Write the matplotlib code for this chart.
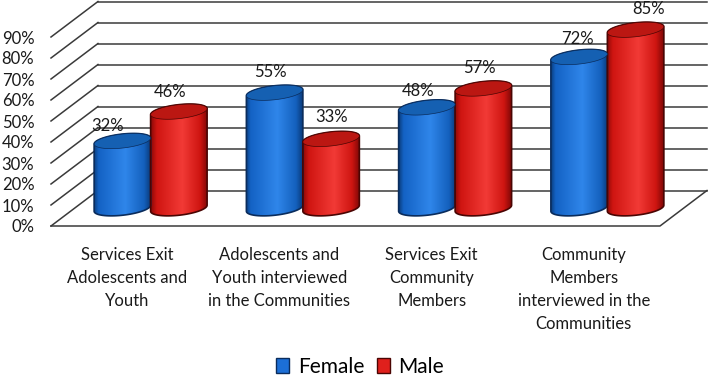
# Columnas 3D tipo cilindro, imitadas con degradados recortados
import numpy as np
import matplotlib
matplotlib.use('Agg')
import matplotlib.pyplot as plt
from matplotlib.colors import LinearSegmentedColormap
from matplotlib.patches import Patch, Polygon

categories = ['Services Exit\nAdolescents and\nYouth',
              'Adolescents and\nYouth interviewed\nin the Communities',
              'Services Exit\nCommunity\nMembers',
              'Community\nMembers\ninterviewed in the\nCommunities']
female = [32, 55, 48, 72]
male = [46, 33, 57, 85]
y_ticks = [0, 10, 20, 30, 40, 50, 60, 70, 80, 90]
y_labels = ['0%', '10%', '20%', '30%', '40%', '50%', '60%', '70%', '80%', '90%']
series_names = ['Female', 'Male']

# desplazamiento de las etiquetas respecto a la tapa (pt)
female_off = [(-11, 11), (-3, 15), (-6, 12), (-1, 13)]
male_off = [(-6, 14), (0, 16), (-3, 15), (9, 15)]

FONT = 'Lato'
plt.rcParams['font.family'] = FONT

W, H = 708, 376
PX_X, PX_Y = 152.3, 2.1      # pixeles por categoria y por 1 %
DX, DY = 47 / PX_X, 35.5 / PX_Y   # profundidad del suelo
BAR_W = 56.5 / PX_X
CAP_B = 7 / PX_Y             # semieje menor de la elipse
SHEAR = 3 / PX_Y             # las elipses suben hacia la derecha
GRID = dict(color='#3a3a3a', lw=1.1, clip_on=False, zorder=1)

BLUE = dict(cmap=LinearSegmentedColormap.from_list(
    'b', [(0, '#0b3f80'), (.08, '#1462c4'), (.55, '#2f86ea'), (.88, '#1460bd'), (1, '#0a3a78')]),
    cap='#1560b2', edge='#0a2c5c')
RED = dict(cmap=LinearSegmentedColormap.from_list(
    'r', [(0, '#8c0a08'), (.1, '#cf1511'), (.55, '#f23a36'), (.86, '#cf1511'), (1, '#7c0706')]),
    cap='#bb1712', edge='#4a0503')

fig = plt.figure(figsize=(W / 100, H / 100), dpi=100, facecolor='white')
ax = fig.add_axes([51 / W, 1 - 226 / H, 609 / W, 189 / H])


def cylinder(ax, x, v, style):
    """Cilindro centrado en x (suelo a media profundidad) y altura v."""
    a = BAR_W / 2
    cx = x + DX / 2
    y0 = DY / 2
    t = np.linspace(np.pi, 2 * np.pi, 40)
    low = np.c_[cx + a * np.cos(t), y0 + CAP_B * np.sin(t) + SHEAR * np.cos(t)]
    up = np.c_[cx + a * np.cos(t[::-1]), y0 + v - CAP_B * np.sin(t[::-1]) + SHEAR * np.cos(t[::-1])]
    outline = np.r_[low, up]
    grad = np.linspace(0, 1, 256)[None, :]
    im = ax.imshow(grad, extent=(cx - a, cx + a, y0 - 2 * CAP_B, y0 + v + 2 * CAP_B),
                   aspect='auto', cmap=style['cmap'], zorder=3, interpolation='bilinear')
    body = Polygon(outline, closed=True, transform=ax.transData, facecolor='none',
                   edgecolor=style['edge'], lw=1.2, clip_on=False, zorder=3.1)
    ax.add_patch(body)
    im.set_clip_path(body)
    im.set_clip_box(fig.bbox)
    t = np.linspace(0, 2 * np.pi, 80)
    cap = np.c_[cx + a * np.cos(t), y0 + v + CAP_B * np.sin(t) + SHEAR * np.cos(t)]
    ax.add_patch(Polygon(cap, closed=True, facecolor=style['cap'], edgecolor=style['edge'],
                         lw=0.5, clip_on=False, zorder=3.2))
    return cx, y0 + v


# paredes y suelo
for y in y_ticks:
    ax.plot([-0.5, -0.5 + DX], [y, y + DY], **GRID)
    ax.plot([-0.5 + DX, 3.5 + DX], [y + DY, y + DY], **GRID)
ax.plot([-0.5, 3.5, 3.5 + DX], [0, 0, DY], **GRID)

for i, (f, m) in enumerate(zip(female, male)):
    for v, off, sign, style in ((f, female_off[i], -1, BLUE), (m, male_off[i], 1, RED)):
        cx, top = cylinder(ax, i + sign * BAR_W / 2, v, style)
        ax.annotate('%d%%' % v, (cx, top), xytext=off, textcoords='offset points',
                    ha='center', va='center', fontsize=12, color='#1a1a1a', zorder=5,
                    annotation_clip=False)

ax.set_xlim(-0.5, 3.5)
ax.set_ylim(0, 90)
ax.set_xticks(range(len(categories)), categories, linespacing=1.55)
ax.set_yticks(y_ticks, y_labels)
ax.tick_params(axis='x', length=0, pad=15, labelsize=12, labelcolor='#1a1a1a')
ax.tick_params(axis='y', length=0, pad=12, labelsize=12, labelcolor='#1a1a1a')
for s in ax.spines.values():
    s.set_visible(False)
ax.patch.set_visible(False)

handles = [Patch(facecolor='#1c6fd6', edgecolor='#0a2c5c', label=series_names[0]),
           Patch(facecolor='#e0201c', edgecolor='#4a0503', label=series_names[1])]
fig.legend(handles=handles, loc='center', bbox_to_anchor=(360 / W, 1 - 367 / H), ncol=2,
           frameon=False, fontsize=15, handlelength=0.62, handleheight=0.7,
           handletextpad=0.4, columnspacing=0.6)

fig.savefig('out.png', dpi=100, facecolor='white')
